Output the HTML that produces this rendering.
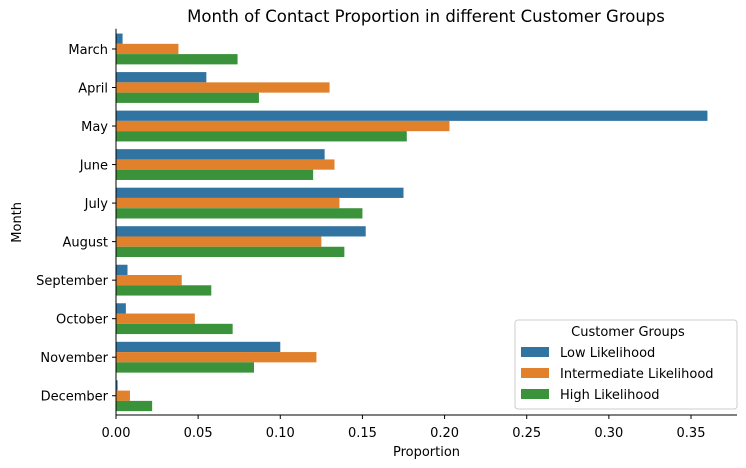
<!DOCTYPE html>
<html><head><meta charset="utf-8"><style>
body{margin:0;background:#fff;}
svg{font-family:"DejaVu Sans","Liberation Sans",sans-serif;display:block;}
</style></head><body>
<svg id="chart" width="746" height="468">
<text x="426" y="22" font-size="16.5" text-anchor="middle" fill="#000">Month of Contact Proportion in different Customer Groups</text>
<g id="bars"></g>
<g id="axes"></g>
<g id="legend">
<rect x="515" y="320" width="222" height="89" rx="3" fill="#fff" fill-opacity="0.8" stroke="#ccc"/>
<text x="628" y="336" font-size="13" text-anchor="middle" fill="#000">Customer Groups</text>
</g>
</svg>
<script>
const categories=["March","April","May","June","July","August","September","October","November","December"];
const lowLikelihood=[0.004,0.055,0.360,0.127,0.175,0.152,0.007,0.006,0.100,0.001];
const intermediateLikelihood=[0.038,0.130,0.203,0.133,0.136,0.125,0.040,0.048,0.122,0.0085];
const highLikelihood=[0.074,0.087,0.177,0.120,0.150,0.139,0.058,0.071,0.084,0.022];
const seriesNames=["Low Likelihood","Intermediate Likelihood","High Likelihood"];
const xTicks=[0,0.05,0.10,0.15,0.20,0.25,0.30,0.35];
const xTickLabels=["0.00","0.05","0.10","0.15","0.20","0.25","0.30","0.35"];
const colors=["#3274a1","#e1812c","#3a923a"];
const NS="http://www.w3.org/2000/svg";
const L=116,R=737,T=29.7,B=415,xMax=0.378;
const x=v=>L+v/xMax*(R-L);
const band=(B-T)/categories.length;
const yc=i=>T+band*(i+0.5);
const bh=band*0.8/3;
const series=[lowLikelihood,intermediateLikelihood,highLikelihood];
const bars=document.getElementById('bars');
series.forEach((s,si)=>{s.forEach((v,i)=>{
 const r=document.createElementNS(NS,'rect');
 r.setAttribute('x',x(0));r.setAttribute('y',yc(i)-band*0.4+si*bh);
 r.setAttribute('width',Math.max(0,x(v)-x(0)));r.setAttribute('height',bh);
 r.setAttribute('fill',colors[si]);
 
 
 bars.appendChild(r);});});
const ax=document.getElementById('axes');
function el(t,a,txt){const e=document.createElementNS(NS,t);for(const k in a)e.setAttribute(k,a[k]);if(txt!=null)e.textContent=txt;ax.appendChild(e);return e;}
const ls=el('line',{x1:L,y1:T-1,x2:L,y2:B,stroke:'#000','stroke-width':1});

const bs=el('line',{x1:L,y1:B,x2:R,y2:B,stroke:'#000','stroke-width':1});

xTicks.forEach((v,i)=>{
 const tk=el('line',{x1:x(v),y1:B,x2:x(v),y2:B+4,stroke:'#000'});
 
 const t=el('text',{x:x(v),y:B+22,'font-size':13,'text-anchor':'middle',fill:'#000'},xTickLabels[i]);
 
});
categories.forEach((c,i)=>{
 const tk=el('line',{x1:L-4,y1:yc(i),x2:L,y2:yc(i),stroke:'#000'});
 
 const t=el('text',{x:L-8,y:yc(i)+5,'font-size':13,'text-anchor':'end',fill:'#000'},c);
 
});
const xt=el('text',{x:(L+R)/2,y:456,'font-size':13,'text-anchor':'middle',fill:'#000'},'Proportion');

const yt=el('text',{x:21,y:(T+B)/2,'font-size':13,'text-anchor':'middle',fill:'#000',transform:'rotate(-90 21 '+((T+B)/2)+')'},'Month');

const lg=document.getElementById('legend');
seriesNames.forEach((n,i)=>{
 const y=353+i*21;
 const r=document.createElementNS(NS,'rect');
 r.setAttribute('x',521);r.setAttribute('y',y-6);r.setAttribute('width',28);r.setAttribute('height',10);r.setAttribute('fill',colors[i]);
 
 
 lg.appendChild(r);
 const t=document.createElementNS(NS,'text');
 t.setAttribute('x',560);t.setAttribute('y',y+4);t.setAttribute('font-size',13);t.setAttribute('fill','#000');t.textContent=n;
 
 
 lg.appendChild(t);
});
</script>
</body></html>
